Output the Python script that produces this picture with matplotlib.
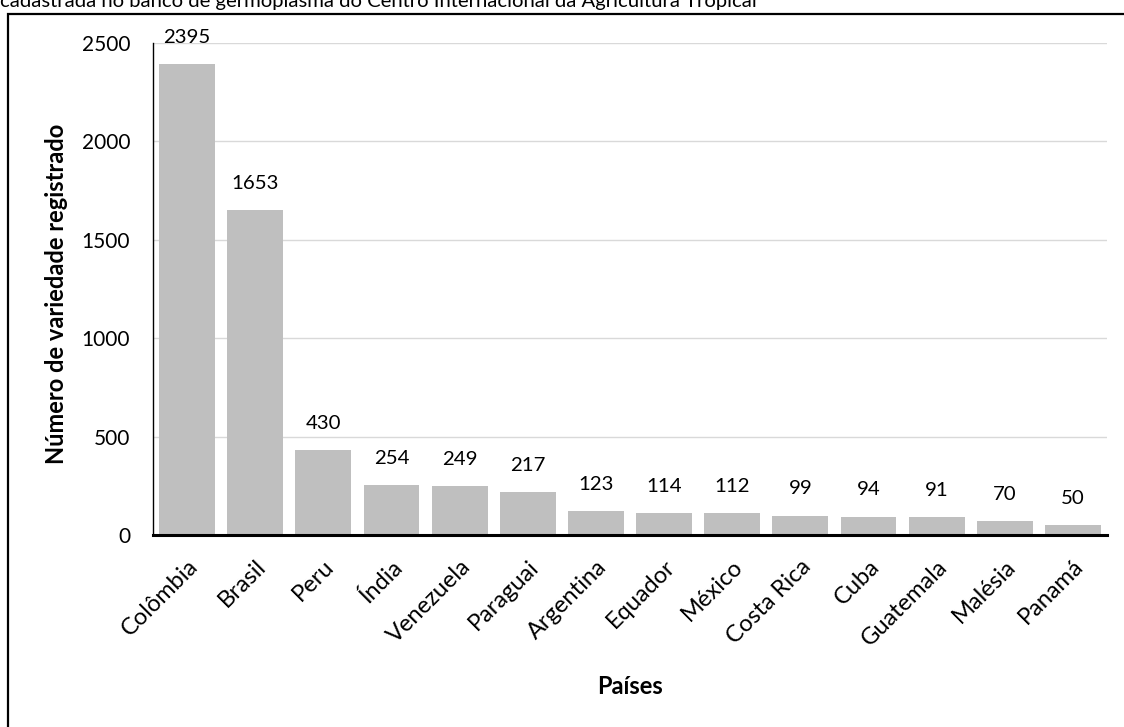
import matplotlib
matplotlib.use("Agg")
import matplotlib.pyplot as plt
from matplotlib.patches import Rectangle

plt.rcParams['font.family'] = ['Lato', 'DejaVu Sans']

paises = ["Colômbia", "Brasil", "Peru", "Índia", "Venezuela", "Paraguai",
          "Argentina", "Equador", "México", "Costa Rica", "Cuba",
          "Guatemala", "Malésia", "Panamá"]
variedades = [2395, 1653, 430, 254, 249, 217, 123, 114, 112, 99, 94, 91, 70, 50]
y_ticks = [0, 500, 1000, 1500, 2000, 2500]

W, H = 1124, 727
fig = plt.figure(figsize=(W / 100, H / 100), dpi=100)

# outer frame around the chart (runs past the right and bottom edges)
fig.patches.append(Rectangle((8 / W, -0.05), 1.2, 1 - 13.5 / H + 0.05,
                             transform=fig.transFigure, fill=False,
                             edgecolor="black", linewidth=1.6, zorder=0))

# caption line partly cut off at the top
fig.text(0.0, 1 - 7.5 / H,
         "cadastrada no banco de germoplasma do Centro Internacional da Agricultura Tropical",
         ha="left", va="baseline", fontsize=14.6, color="black")

ax = fig.add_axes([153 / W, 1 - 535 / H, (1107 - 153) / W, (535 - 43) / H])
x = list(range(len(paises)))
ax.bar(x, variedades, width=0.82, color="#BFBFBF", zorder=2)

for xi, v in zip(x, variedades):
    ax.annotate(f"{v}", (xi, v), xytext=(0, 13), textcoords="offset points",
                ha="center", va="bottom", fontsize=14.7, color="black")

ax.set_xlim(-0.5, len(paises) - 0.5)
ax.set_ylim(0, 2500)
ax.set_yticks(y_ticks)
ax.set_yticklabels([str(t) for t in y_ticks], fontsize=15)
ax.yaxis.grid(True, color="#D9D9D9", linewidth=1.0, zorder=0)
ax.set_axisbelow(True)

ax.set_xticks(x)
ax.set_xticklabels(paises, rotation=45, ha="right", va="top",
                   rotation_mode="anchor", fontsize=17)
ax.tick_params(axis="both", length=0)
ax.tick_params(axis="y", pad=16.5)
ax.tick_params(axis="x", pad=15)

for s in ["top", "right"]:
    ax.spines[s].set_visible(False)
ax.spines["left"].set_linewidth(1.0)
ax.spines["bottom"].set_linewidth(2.2)
ax.spines["bottom"].set_zorder(3)

ax.set_ylabel("Número de variedade registrado", fontsize=17, fontweight="bold")
ax.yaxis.set_label_coords((68 - 153) / 954, 0.49)
ax.set_xlabel("Países", fontsize=17, fontweight="bold")
ax.xaxis.set_label_coords(0.5, (535 - 675) / 492)

fig.savefig("out.png", dpi=100)
